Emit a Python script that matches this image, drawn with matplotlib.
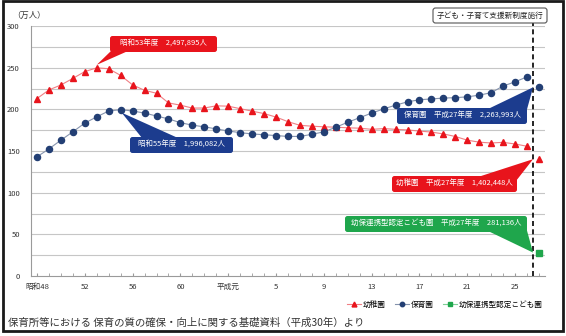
import matplotlib
matplotlib.use("Agg")
import matplotlib.pyplot as plt
from matplotlib.patches import FancyBboxPatch, Polygon, Rectangle
from matplotlib.lines import Line2D
import numpy as np

plt.rcParams['font.family'] = ['Noto Sans CJK JP', 'DejaVu Sans']

# ---- data (万人) ----
years = list(range(1973, 2016))  # 昭和48 .. 平成27
youchien = [212.9, 223.3, 229.2, 237.1, 245.3, 249.8, 248.7, 240.7, 229.3, 222.8,
            219.3, 207.7, 205.0, 201.5, 201.6, 204.2, 203.8, 200.8, 197.8, 194.9,
            190.7, 185.2, 180.8, 179.8, 179.0, 178.6, 177.8, 177.4, 176.0, 176.9,
            176.0, 175.3, 173.9, 172.7, 170.5, 167.4, 163.0, 160.6, 159.6, 160.4,
            158.4, 155.7, 140.2]
hoikuen = [143.0, 152.5, 163.0, 173.0, 183.5, 191.0, 198.0, 199.6, 198.0, 195.5,
           192.0, 188.5, 184.0, 181.0, 179.0, 176.5, 174.0, 172.0, 170.5, 169.5,
           168.5, 167.5, 167.5, 170.0, 173.0, 178.5, 184.5, 190.0, 195.5, 200.5,
           205.0, 209.0, 211.5, 212.5, 213.5, 214.0, 215.0, 217.0, 220.0, 228.0,
           233.0, 239.0, 226.4]
kodomo_year = [2015]
kodomo = [28.1]

tick_years = [1973, 1977, 1981, 1985, 1989, 1993, 1997, 2001, 2005, 2009, 2013]
tick_labels = ['昭和48', '52', '56', '60', '平成元', '5', '9', '13', '17', '21', '25']
y_ticks = [0, 50, 100, 150, 200, 250, 300]

RED = '#e8141c'
RED_LINE = '#f07f84'
BLUE = '#233f74'
BLUE_LINE = '#8593ad'
GREEN = '#1fa64c'
BLUE_BOX = '#1c3c8e'

W, H = 566, 336
fig = plt.figure(figsize=(W / 100, H / 100), dpi=100)
fig.patch.set_facecolor('white')

ax = fig.add_axes([31 / W, 1 - 276 / H, (545 - 31) / W, (276 - 26) / H])
ax.set_xlim(1972.5, 2015.5)
ax.set_ylim(0, 300)

# gridlines every 25
for g in np.arange(25, 301, 25):
    ax.axhline(g, color='#c6c6c6', lw=0.8, zorder=0)

for s in ['top', 'right']:
    ax.spines[s].set_visible(False)
for s in ['left', 'bottom']:
    ax.spines[s].set_color('#9a9a9a')
    ax.spines[s].set_linewidth(0.8)

ax.set_yticks(y_ticks)
ax.set_yticklabels([str(v) for v in y_ticks])
ax.tick_params(axis='y', length=0, pad=8, labelsize=5.5, labelcolor='#333333')
ax.set_xticks(tick_years)
ax.set_xticklabels(tick_labels)
ax.set_xticks(years, minor=True)
ax.tick_params(axis='x', which='major', length=2.5, direction='in', color='#9a9a9a',
               pad=5, labelsize=5.5, labelcolor='#333333')
ax.tick_params(axis='x', which='minor', length=2.5, direction='in', color='#9a9a9a')

# series (1973-2014 connected, 2015 separate after the new system)
ax.plot(years[:-1], youchien[:-1], color=RED_LINE, lw=0.8, zorder=3)
ax.plot(years, youchien, ls='none', marker='^', ms=4.6, color=RED, zorder=4)
ax.plot(years[:-1], hoikuen[:-1], color=BLUE_LINE, lw=0.8, zorder=3)
ax.plot(years, hoikuen, ls='none', marker='o', ms=4.4, color=BLUE, zorder=4)
ax.plot(kodomo_year, kodomo, ls='none', marker='s', ms=4.2, color=GREEN, zorder=4)

# dashed vertical line (new system)
ax.plot([2014.5, 2014.5], [0, 303.6], color='black', lw=1.2, ls=(0, (3, 2)),
        clip_on=False, zorder=5)

# legend
handles = [Line2D([], [], color=RED_LINE, lw=0.8, marker='^', ms=3.5, mfc=RED, mec=RED),
           Line2D([], [], color=BLUE_LINE, lw=0.8, marker='o', ms=3.2, mfc=BLUE, mec=BLUE),
           Line2D([], [], color='#7fcf97', lw=0.8, marker='s', ms=3.2, mfc=GREEN, mec=GREEN)]
fig.legend(handles, ['幼稚園', '保育園', '幼保連携型認定こども園'], loc='center right',
           bbox_to_anchor=(550 / W, 1 - 305 / H), ncol=3, frameon=False,
           fontsize=5.5, handlelength=1.8, handletextpad=0.3, columnspacing=1.2)

# ---- overlay in pixel coordinates ----
ov = fig.add_axes([0, 0, 1, 1], zorder=10)
ov.set_xlim(0, W)
ov.set_ylim(H, 0)
ov.axis('off')
ov.patch.set_alpha(0)


def d2p(x, y):
    disp = ax.transData.transform((x, y))
    return ov.transData.inverted().transform(disp)


def callout(box, text, color, base, tip, tcolor='white', ec='none', fs=5.4):
    x0, y0, x1, y1 = box
    if base is not None:
        ov.add_patch(Polygon([base[0], base[1], tip], closed=True, fc=color, ec='none', zorder=11))
    ov.add_patch(FancyBboxPatch((x0, y0), x1 - x0, y1 - y0,
                                boxstyle='round,pad=0,rounding_size=2.5',
                                fc=color, ec=ec, lw=0.8, zorder=12))
    ov.text((x0 + x1) / 2, (y0 + y1) / 2, text, color=tcolor, fontsize=fs,
            ha='center', va='center', zorder=13)


i78 = int(np.argmax(youchien))
i80 = int(np.argmax(hoikuen[:20]))
tx, ty = d2p(years[i78], youchien[i78])
callout((110, 36, 217, 52), '昭和53年度　2,497,895人', RED,
        [(111, 51), (128, 51)], (tx, ty - 3))
tx, ty = d2p(years[i80], hoikuen[i80])
callout((130, 137, 233, 153), '昭和55年度　1,996,082人', BLUE_BOX,
        [(142, 138), (178, 138)], (tx + 1, ty + 3))
tx, ty = d2p(2014.5, hoikuen[-1])
callout((397, 108, 527, 124), '保育園　平成27年度　2,263,993人', BLUE_BOX,
        [(488, 109), (526, 113)], (tx, ty))
tx, ty = d2p(2014.5, youchien[-1])
callout((392, 176, 517, 192), '幼稚園　平成27年度　1,402,448人', RED,
        [(478, 177), (516, 181)], (tx, ty))
tx, ty = d2p(2014.5, kodomo[0])
callout((345, 216, 527, 232), '幼保連携型認定こども園　平成27年度　281,136人', GREEN,
        [(488, 231), (526, 227)], (tx, ty))
callout((433, 8, 547, 23), '子ども・子育て支援新制度施行', 'white', None, None,
        tcolor='#222222', ec='#555555', fs=5.5)

# unit label
ov.text(12, 15, '（万人）', fontsize=6, color='#333333', ha='left', va='center')

# caption
ov.text(8, 323, '保育所等における 保育の質の確保・向上に関する基礎資料（平成30年）より',
        fontsize=7.5, color='#333333', ha='left', va='center')

# outer frame
ov.add_patch(Rectangle((3, 1), 560, 330, fill=False, ec='#1a1a1a', lw=2, zorder=20))

fig.savefig('out.png', dpi=100, facecolor='white')
